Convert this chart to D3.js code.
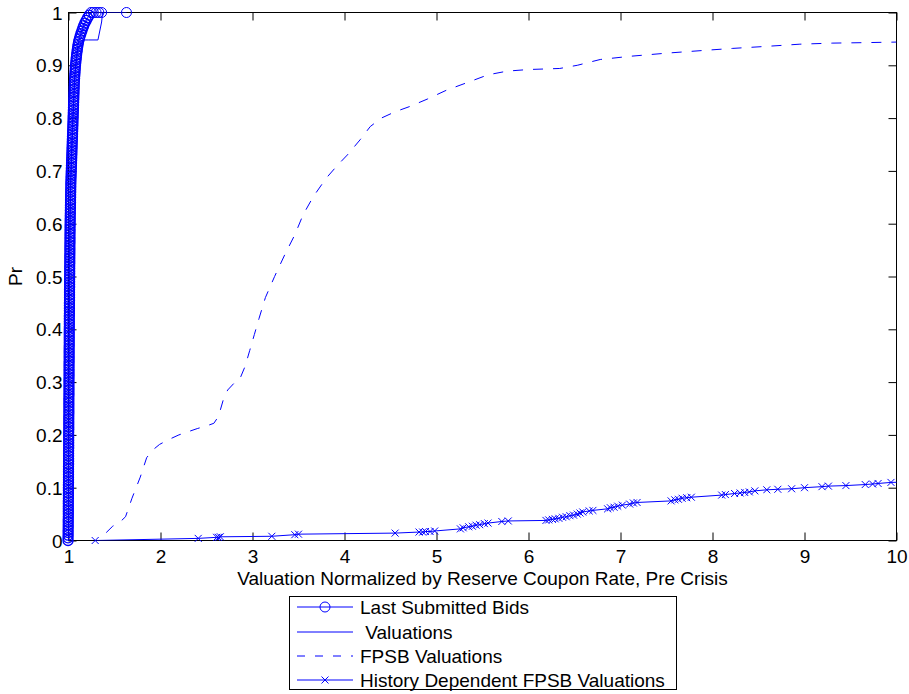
<!DOCTYPE html>
<html><head><meta charset="utf-8">
<script src="https://cdn.jsdelivr.net/npm/d3@7"></script>
<style>
html,body{margin:0;padding:0;background:#fff;}
svg text{font-family:"Liberation Sans",Arial,Helvetica,sans-serif;fill:#000;}
</style></head>
<body>
<script>
// ---------- data ----------
const xTicks = [1,2,3,4,5,6,7,8,9,10];
const yTicks = [0,0.1,0.2,0.3,0.4,0.5,0.6,0.7,0.8,0.9,1];
const yTickLabels = ["0","0.1","0.2","0.3","0.4","0.5","0.6","0.7","0.8","0.9","1"];
const seriesNames = ["Last Submitted Bids"," Valuations","FPSB Valuations","History Dependent FPSB Valuations"];

// Last submitted bids (empirical CDF, circles)
const bidsX = [
0.995,0.995,0.996,0.996,0.996,0.997,0.997,0.997,0.997,0.998,0.998,0.998,0.998,0.998,0.998,0.998,0.999,0.999,0.999,0.999,
0.999,0.999,1.000,1.000,1.000,1.000,1.000,1.000,1.000,1.001,1.001,1.001,1.001,1.001,1.001,1.002,1.002,1.002,1.002,1.002,
1.002,1.002,1.003,1.003,1.003,1.003,1.003,1.003,1.004,1.004,1.004,1.004,1.004,1.004,1.004,1.005,1.005,1.005,1.005,1.005,
1.005,1.005,1.006,1.006,1.006,1.006,1.006,1.006,1.007,1.007,1.007,1.007,1.007,1.007,1.008,1.008,1.008,1.008,1.008,1.008,
1.008,1.009,1.009,1.009,1.009,1.009,1.010,1.010,1.010,1.010,1.010,1.011,1.011,1.011,1.011,1.011,1.012,1.012,1.012,1.012,
1.012,1.013,1.013,1.013,1.013,1.014,1.014,1.014,1.014,1.015,1.015,1.015,1.015,1.016,1.016,1.016,1.016,1.017,1.017,1.017,
1.018,1.018,1.019,1.019,1.020,1.020,1.021,1.021,1.022,1.022,1.023,1.023,1.024,1.024,1.025,1.025,1.026,1.027,1.028,1.029,
1.030,1.031,1.032,1.033,1.034,1.035,1.036,1.037,1.038,1.039,1.040,1.041,1.042,1.043,1.044,1.045,1.046,1.047,1.048,1.049,
1.050,1.051,1.052,1.053,1.054,1.055,1.056,1.057,1.058,1.059,1.060,1.061,1.062,1.063,1.064,1.066,1.068,1.070,1.072,1.074,
1.076,1.079,1.082,1.085,1.088,1.092,1.096,1.100,1.105,1.110,1.118,1.126,1.135,1.145,1.155,1.165,1.178,1.192,1.208,1.225,
1.245,1.270,1.300,1.330,1.360,1.630];
const bidsY = [
0.000,0.005,0.010,0.015,0.020,0.025,0.030,0.035,0.040,0.045,0.050,0.055,0.060,0.065,0.070,0.075,0.080,0.085,0.090,0.095,
0.100,0.105,0.110,0.115,0.120,0.125,0.130,0.135,0.140,0.145,0.150,0.155,0.160,0.165,0.170,0.175,0.180,0.185,0.190,0.195,
0.200,0.205,0.210,0.215,0.220,0.225,0.230,0.235,0.240,0.245,0.250,0.255,0.260,0.265,0.270,0.275,0.280,0.285,0.290,0.295,
0.300,0.305,0.310,0.315,0.320,0.325,0.330,0.335,0.340,0.345,0.350,0.355,0.360,0.365,0.370,0.375,0.380,0.385,0.390,0.395,
0.400,0.405,0.410,0.415,0.420,0.425,0.430,0.435,0.440,0.445,0.450,0.455,0.460,0.465,0.470,0.475,0.480,0.485,0.490,0.495,
0.500,0.505,0.510,0.515,0.520,0.525,0.530,0.535,0.540,0.545,0.550,0.555,0.560,0.565,0.570,0.575,0.580,0.585,0.590,0.595,
0.600,0.605,0.610,0.615,0.620,0.625,0.630,0.635,0.640,0.645,0.650,0.655,0.660,0.665,0.670,0.675,0.680,0.685,0.690,0.695,
0.700,0.705,0.710,0.715,0.720,0.725,0.730,0.735,0.740,0.745,0.750,0.755,0.760,0.765,0.770,0.775,0.780,0.785,0.790,0.795,
0.800,0.805,0.810,0.815,0.820,0.825,0.830,0.835,0.840,0.845,0.850,0.855,0.860,0.865,0.870,0.875,0.880,0.885,0.890,0.895,
0.900,0.905,0.910,0.915,0.920,0.925,0.930,0.935,0.940,0.945,0.950,0.955,0.960,0.965,0.970,0.975,0.980,0.985,0.990,0.995,
1.000,1.000,1.000,1.000,1.000,1.000];

// Valuations (solid line)
const valX = [1.000,1.004,1.009,1.018,1.040,1.070,1.100,1.160,1.215,1.320,1.360,1.370];
const valY = [0.000,0.300,0.500,0.650,0.780,0.880,0.930,0.948,0.948,0.948,0.982,1.000];

// FPSB valuations (dashed)
const fpsbX = [1.41,1.48,1.56,1.62,1.69,1.78,1.85,1.92,1.99,2.10,2.20,2.30,2.40,2.50,2.58,2.63,2.68,2.73,2.80,2.86,
2.92,2.97,3.02,3.07,3.14,3.24,3.35,3.46,3.55,3.66,3.80,3.92,4.03,4.17,4.28,4.40,4.55,4.71,4.90,5.11,
5.33,5.56,5.77,6.00,6.34,6.53,6.78,7.10,7.50,7.97,8.22,8.60,8.95,9.30,9.68,10.0];
const fpsbY = [0.015,0.027,0.035,0.045,0.080,0.120,0.157,0.172,0.182,0.192,0.200,0.206,0.212,0.217,0.222,0.235,0.265,0.285,0.298,0.305,
0.330,0.360,0.390,0.420,0.460,0.500,0.541,0.579,0.617,0.651,0.686,0.710,0.730,0.759,0.784,0.800,0.812,0.822,0.836,0.853,
0.867,0.882,0.889,0.892,0.894,0.900,0.911,0.917,0.923,0.929,0.932,0.936,0.940,0.942,0.943,0.944];

// History dependent FPSB valuations (x markers)
const histX = [1.29,2.41,2.61,2.63,2.65,3.21,3.46,3.50,4.55,4.81,4.85,4.88,4.93,4.98,5.26,5.29,5.35,5.39,5.43,5.47,
5.52,5.56,5.71,5.78,6.19,6.22,6.26,6.29,6.33,6.37,6.41,6.45,6.49,6.53,6.56,6.59,6.66,6.70,6.86,6.89,
6.93,6.97,7.02,7.10,7.14,7.18,7.55,7.59,7.63,7.67,7.72,7.77,8.10,8.14,8.24,8.30,8.35,8.40,8.46,8.59,
8.71,8.86,9.00,9.19,9.26,9.45,9.66,9.74,9.80,9.94,10.2];
const histY = [0.000,0.004,0.006,0.006,0.007,0.008,0.011,0.012,0.014,0.016,0.016,0.017,0.017,0.018,0.022,0.024,0.026,0.027,0.029,0.030,
0.032,0.033,0.036,0.037,0.038,0.039,0.040,0.041,0.042,0.044,0.045,0.047,0.048,0.050,0.052,0.054,0.056,0.057,0.060,0.062,
0.063,0.065,0.067,0.069,0.071,0.072,0.075,0.077,0.078,0.080,0.081,0.082,0.086,0.087,0.089,0.090,0.091,0.092,0.094,0.096,
0.097,0.098,0.100,0.102,0.103,0.104,0.106,0.107,0.108,0.110,0.111];

// ---------- layout ----------
const W = 909, H = 694;
const L = 68.5, R = 896.5, T = 12.5, B = 540.5;
const BLUE = "#0000ff";
const FS = 19;

const svg = d3.select("body").append("svg").attr("width", W).attr("height", H)
  .style("display","block");

const x = d3.scaleLinear().domain([1,10]).range([L,R]);
const y = d3.scaleLinear().domain([0,1]).range([B,T]);

svg.append("defs").append("clipPath").attr("id","clip")
  .append("rect").attr("x",L).attr("y",T).attr("width",R-L).attr("height",B-T);

// axes (ticks inward on all sides)
const fmtY = (d) => yTickLabels[yTicks.indexOf(d)];
const gB = svg.append("g").attr("transform",`translate(0,${B})`)
  .call(d3.axisBottom(x).tickValues(xTicks).tickSize(-8).tickPadding(9).tickFormat(d3.format("d")));
const gT = svg.append("g").attr("transform",`translate(0,${T})`)
  .call(d3.axisTop(x).tickValues(xTicks).tickSize(-8).tickFormat(""));
const gLft = svg.append("g").attr("transform",`translate(${L},0)`)
  .call(d3.axisLeft(y).tickValues(yTicks).tickSize(-8).tickPadding(6).tickFormat(fmtY));
const gRt = svg.append("g").attr("transform",`translate(${R},0)`)
  .call(d3.axisRight(y).tickValues(yTicks).tickSize(-8).tickFormat(""));
[gB,gT,gLft,gRt].forEach(g=>{
  g.select(".domain").remove();
  g.selectAll(".tick line").attr("stroke","#000").attr("stroke-width",1);
  g.selectAll("text").attr("font-size",FS).attr("font-family","'Liberation Sans',Arial,sans-serif").attr("fill","#000");
});
gLft.selectAll("text").attr("dy","0.35em");
svg.append("rect").attr("x",L).attr("y",T).attr("width",R-L).attr("height",B-T)
  .attr("fill","none").attr("stroke","#000").attr("stroke-width",1);

const plot = svg.append("g");
const lines = plot.append("g").attr("clip-path","url(#clip)");
const line = d3.line().x(d=>x(d[0])).y(d=>y(d[1]));
const inDom = d => d[0]>=0.99 && d[0]<=10 && d[1]>=0 && d[1]<=1;

const bids = d3.zip(bidsX,bidsY);
const vals = d3.zip(valX,valY);
const fpsb = d3.zip(fpsbX,fpsbY);
const hist = d3.zip(histX,histY);

// bids
lines.append("path").attr("d",line(bids)).attr("fill","none").attr("stroke",BLUE).attr("stroke-width",1);
plot.append("g").selectAll("circle").data(bids.filter(inDom)).join("circle")
  .attr("cx",d=>x(d[0])).attr("cy",d=>y(d[1])).attr("r",5)
  .attr("fill","none").attr("stroke",BLUE).attr("stroke-width",d=>d[1]<1?1.3:1);
// valuations
lines.append("path").attr("d",line(vals)).attr("fill","none").attr("stroke",BLUE).attr("stroke-width",1);
// fpsb
lines.append("path").attr("d",line(fpsb)).attr("fill","none").attr("stroke",BLUE).attr("stroke-width",1)
  .attr("stroke-dasharray","10,10");
// history dependent
lines.append("path").attr("d",line(hist)).attr("fill","none").attr("stroke",BLUE).attr("stroke-width",1);
const xm = 3.5;
plot.append("g").selectAll("path").data(hist.filter(inDom)).join("path")
  .attr("d",d=>{const cx=x(d[0]),cy=y(d[1]);return `M${cx-xm},${cy-xm}L${cx+xm},${cy+xm}M${cx-xm},${cy+xm}L${cx+xm},${cy-xm}`;})
  .attr("fill","none").attr("stroke",BLUE).attr("stroke-width",1);

// axis labels
svg.append("text").attr("x",(L+R)/2).attr("y",585).attr("text-anchor","middle")
  .attr("font-size",FS).text("Valuation Normalized by Reserve Coupon Rate, Pre Crisis");
svg.append("text").attr("transform",`translate(15,${(T+B)/2}) rotate(-90)`)
  .attr("text-anchor","middle").attr("dy","0.35em").attr("font-size",FS).text("Pr");

// legend
const lg = svg.append("g");
lg.append("rect").attr("x",289.5).attr("y",596.5).attr("width",387).attr("height",93)
  .attr("fill","#fff").attr("stroke","#000").attr("stroke-width",1);
const rowsY = [607,632,656,680];
const styles = [{dash:null,marker:"o"},{dash:null,marker:null},{dash:"8,10",marker:null},{dash:null,marker:"x"}];
seriesNames.forEach((name,i)=>{
  const yy = rowsY[i];
  lg.append("line").attr("x1",297).attr("x2",353).attr("y1",yy).attr("y2",yy)
    .attr("stroke",BLUE).attr("stroke-width",1).attr("stroke-dasharray",styles[i].dash);
  if(styles[i].marker==="o") lg.append("circle").attr("cx",325).attr("cy",yy).attr("r",5)
    .attr("fill","none").attr("stroke",BLUE);
  if(styles[i].marker==="x") lg.append("path")
    .attr("d",`M${325-xm},${yy-xm}L${325+xm},${yy+xm}M${325-xm},${yy+xm}L${325+xm},${yy-xm}`)
    .attr("stroke",BLUE).attr("fill","none");
  lg.append("text").attr("x",360).attr("y",yy).attr("dy","0.35em").attr("font-size",FS)
    .style("white-space","pre").text(name);
});
</script>
</body></html>
